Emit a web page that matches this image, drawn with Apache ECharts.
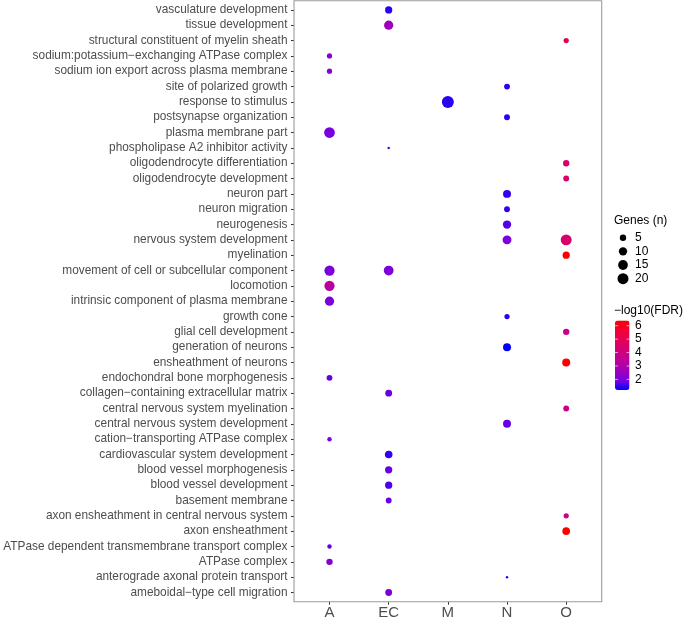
<!DOCTYPE html>
<html>
<head>
<meta charset="utf-8">
<script src="https://cdn.jsdelivr.net/npm/echarts@6/dist/echarts.min.js"></script>
<style>
html,body{margin:0;padding:0;background:#fff;}
#chart{width:685px;height:618px;}
</style>
</head>
<body>
<div id="chart"></div>
<script>
// ---- data ----
const groups = ['A', 'EC', 'M', 'N', 'O'];
const terms = [
  'vasculature development',
  'tissue development',
  'structural constituent of myelin sheath',
  'sodium:potassium\u2212exchanging ATPase complex',
  'sodium ion export across plasma membrane',
  'site of polarized growth',
  'response to stimulus',
  'postsynapse organization',
  'plasma membrane part',
  'phospholipase A2 inhibitor activity',
  'oligodendrocyte differentiation',
  'oligodendrocyte development',
  'neuron part',
  'neuron migration',
  'neurogenesis',
  'nervous system development',
  'myelination',
  'movement of cell or subcellular component',
  'locomotion',
  'intrinsic component of plasma membrane',
  'growth cone',
  'glial cell development',
  'generation of neurons',
  'ensheathment of neurons',
  'endochondral bone morphogenesis',
  'collagen\u2212containing extracellular matrix',
  'central nervous system myelination',
  'central nervous system development',
  'cation\u2212transporting ATPase complex',
  'cardiovascular system development',
  'blood vessel morphogenesis',
  'blood vessel development',
  'basement membrane',
  'axon ensheathment in central nervous system',
  'axon ensheathment',
  'ATPase dependent transmembrane transport complex',
  'ATPase complex',
  'anterograde axonal protein transport',
  'ameboidal\u2212type cell migration'
];
// one entry per point: term index, group, gene count, -log10(FDR)
const pointTerm  = [0, 1, 2, 3, 4, 5, 6, 7, 8, 9, 10, 11, 12, 13, 14, 15, 15, 16, 17, 17, 18, 19, 20, 21, 22, 23, 24, 25, 26, 27, 28, 29, 30, 31, 32, 33, 34, 35, 36, 37, 38];
const pointGroup = ['EC','EC','O','A','A','N','M','N','A','EC','O','O','N','N','N','N','O','O','A','EC','A','A','N','O','N','O','A','EC','O','N','A','EC','EC','EC','EC','O','O','A','A','N','EC'];
const pointGenes = [7, 13, 3, 3, 3, 4, 25, 4, 19, 1, 5, 4, 9, 4, 10, 12, 20, 7, 17, 15, 17, 13, 3, 5, 9, 9, 4, 6, 4, 9, 2, 8, 7, 7, 4, 3, 8, 2, 5, 1, 6];
const pointFDR   = [1.45, 2.6, 5.1, 2.25, 2.25, 1.45, 1.45, 1.45, 1.93, 1.7, 4.45, 4.45, 1.5, 1.5, 1.7, 2.0, 4.4, 6.39, 2.0, 2.0, 3.3, 2.0, 1.45, 3.8, 1.21, 6.3, 1.8, 1.8, 3.8, 1.8, 2.0, 1.5, 1.8, 1.65, 1.8, 3.8, 6.35, 1.8, 2.2, 1.5, 2.0];
const sizeLegendValues = [5, 10, 15, 20];
const colorLegendTicks = [2, 3, 4, 5, 6];

// ---- layout constants ----
const W = 685, H = 618;
const P = {l: 294, t: 0.7, r: 601.7, b: 601.7};
const FONT = '"Liberation Sans", Arial, Helvetica, sans-serif';
const xBand = (P.r - P.l) / (groups.length - 1 + 1.2);
const yBand = (P.b - P.t) / (terms.length - 1 + 1.2);
const gLeft = P.l + 0.1 * xBand, gRight = P.r - 0.1 * xBand;
const gTop = P.t + 0.1 * yBand, gBottom = P.b - 0.1 * yBand;

const gMin = Math.min(...pointGenes), gMax = Math.max(...pointGenes);
function sizeOf(n) { return 2.5 + 9.5 * Math.sqrt((n - gMin) / (gMax - gMin)); }
const fMin = Math.min(...pointFDR), fMax = Math.max(...pointFDR);
const gradient = ['#0000FF', '#7300E0', '#9A00C2', '#B500A5', '#CA0089', '#DA006C', '#E8004F', '#F40031', '#FF0000'];

const data = pointTerm.map((t, i) => [pointGroup[i], terms[t], pointFDR[i], pointGenes[i]]);

// legend graphics
const graphics = [];
graphics.push({type: 'rect', silent: true, z: 10,
  shape: {x: P.l, y: P.t, width: P.r - P.l, height: P.b - P.t},
  style: {fill: 'none', stroke: '#9C9C9C', lineWidth: 1.1}});
graphics.push({type: 'text', style: {text: 'Genes (n)', x: 614, y: 220.7, font: '12px ' + FONT, fill: '#000', verticalAlign: 'middle'}});
const sizeRow0 = 237.7, sizeStep = 13.65;
sizeLegendValues.forEach((v, i) => {
  const cy = sizeRow0 + i * sizeStep;
  graphics.push({type: 'circle', shape: {cx: 623, cy: cy, r: sizeOf(v) / 2}, style: {fill: '#000'}});
  graphics.push({type: 'text', style: {text: String(v), x: 635, y: cy, font: '12px ' + FONT, fill: '#000', verticalAlign: 'middle'}});
});
graphics.push({type: 'text', style: {text: '\u2212log10(FDR)', x: 614, y: 310.7, font: '12px ' + FONT, fill: '#000', verticalAlign: 'middle'}});
const bar = {x: 615, y: 320.5, w: 14.5, h: 69.5};
colorLegendTicks.forEach(v => {
  const y = bar.y + bar.h - (v - fMin) / (fMax - fMin) * bar.h;
  graphics.push({type: 'text', style: {text: String(v), x: 635, y: y, font: '12px ' + FONT, fill: '#000', verticalAlign: 'middle'}});
  graphics.push({type: 'line', z: 20, shape: {x1: bar.x, y1: y, x2: bar.x + 3, y2: y}, style: {stroke: 'rgba(255,255,255,0.8)', lineWidth: 0.8}});
  graphics.push({type: 'line', z: 20, shape: {x1: bar.x + bar.w - 3, y1: y, x2: bar.x + bar.w, y2: y}, style: {stroke: 'rgba(255,255,255,0.8)', lineWidth: 0.8}});
});

const chart = echarts.init(document.getElementById('chart'), null, {renderer: 'canvas'});
chart.setOption({
  animation: false,
  backgroundColor: '#fff',
  textStyle: {fontFamily: FONT},
  grid: {left: gLeft, right: W - gRight, top: gTop, bottom: H - gBottom, containLabel: false, outerBoundsMode: 'none'},
  xAxis: {
    type: 'category', data: groups, boundaryGap: true,
    offset: P.b - gBottom,
    axisLine: {show: false},
    axisTick: {show: true, alignWithLabel: true, length: 3, lineStyle: {color: '#333', width: 1}},
    axisLabel: {color: '#4D4D4D', fontSize: 15, margin: 4, fontFamily: FONT},
    splitLine: {show: false}
  },
  yAxis: {
    type: 'category', data: terms, inverse: true, boundaryGap: true,
    offset: gLeft - P.l,
    axisLine: {show: false},
    axisTick: {show: true, alignWithLabel: true, length: 3, lineStyle: {color: '#333', width: 1}},
    axisLabel: {color: '#4D4D4D', fontSize: 11.85, margin: 6.5, fontFamily: FONT, interval: 0},
    splitLine: {show: false}
  },
  visualMap: {
    type: 'continuous', dimension: 2, min: fMin, max: fMax,
    calculable: false, realtime: false, hoverLink: false,
    orient: 'vertical', left: bar.x, top: bar.y, padding: 0,
    itemWidth: bar.w, itemHeight: bar.h,
    inRange: {color: gradient},
    showLabel: false, text: null
  },
  series: [{
    type: 'scatter',
    data: data,
    symbol: 'circle',
    symbolSize: v => sizeOf(v[3]),
    itemStyle: {opacity: 1},
    emphasis: {disabled: true}
  }],
  graphic: graphics
});
</script>
</body>
</html>
